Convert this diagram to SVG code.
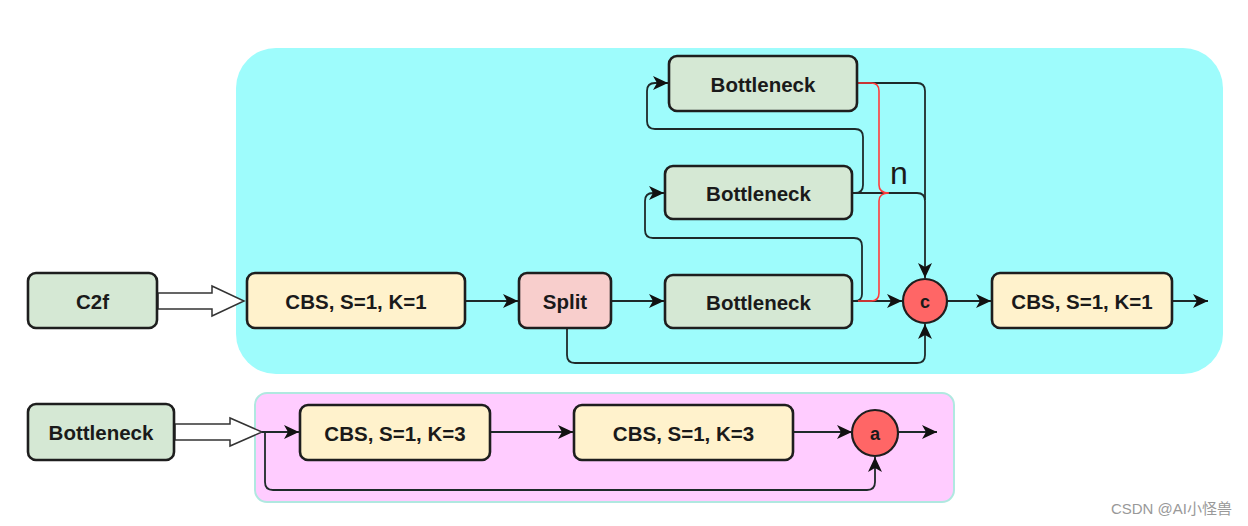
<svg xmlns="http://www.w3.org/2000/svg" width="1248" height="526" viewBox="0 0 1248 526">
<style>
.box{stroke:#1e1e1e;stroke-width:2.6}
.g{fill:#d5e8d4}
.y{fill:#fff2cc}
.r{fill:#f8cecc}
.t{font-family:"Liberation Sans",Arial,sans-serif;font-weight:bold;font-size:20.5px;fill:#1a1a1a;text-anchor:middle;dominant-baseline:central}
.ct{font-size:18px}
.circ{fill:#ff6666;stroke:#1e1e1e;stroke-width:2.2}
.ln{fill:none;stroke:#1e2a2a;stroke-width:1.8}
.hol{fill:#ffffff;stroke:#333;stroke-width:1.5}
</style>
<defs>
<marker id="ah" markerUnits="userSpaceOnUse" markerWidth="16" markerHeight="14" refX="15" refY="7" orient="auto">
<path d="M0,0 L15,7 L0,14 L4,7 z" fill="#111"/>
</marker>
</defs>
<rect x="236" y="48" width="987" height="326" rx="40" fill="#9efcfc"/>
<rect x="255" y="393" width="699" height="109" rx="12" fill="#ffccff" stroke="#b0e8e0" stroke-width="2"/>
<g id="connectors">
<polygon class="hol" points="158,293 212,293 212,286 244,301 212,316 212,309 158,309"/>
<polygon class="hol" points="175,424 230,424 230,418 262,432 230,446 230,440 175,440"/>
<path class="ln" d="M465,301 H518" marker-end="url(#ah)"/>
<path class="ln" d="M611,301 H664" marker-end="url(#ah)"/>
<path class="ln" d="M852,301 H902" marker-end="url(#ah)"/>
<path class="ln" d="M852,301 H855 Q862,301 862,294 V246 Q862,238 854,238 H653 Q645,238 645,230 V201 Q645,193 653,193 H664" marker-end="url(#ah)"/>
<path class="ln" d="M852,193 H917 Q925,193 925,201 V278" marker-end="url(#ah)"/>
<path class="ln" d="M852,193 H855 Q863,193 863,185 V137 Q863,129 855,129 H655 Q647,129 647,121 V91 Q647,83 655,83 H668" marker-end="url(#ah)"/>
<path class="ln" d="M857,83 H917 Q925,83 925,91 V200"/>
<path class="ln" d="M567,328 V355 Q567,363 575,363 H917 Q925,363 925,355 V324" marker-end="url(#ah)"/>
<path class="ln" d="M947,301 H991" marker-end="url(#ah)"/>
<path class="ln" d="M1172,301 H1208" marker-end="url(#ah)"/>
<path class="ln" d="M262,432 H299" marker-end="url(#ah)"/>
<path class="ln" d="M265,432 V482 Q265,490 273,490 H867 Q875,490 875,482 V457" marker-end="url(#ah)"/>
<path class="ln" d="M490,432 H573" marker-end="url(#ah)"/>
<path class="ln" d="M793,432 H852" marker-end="url(#ah)"/>
<path class="ln" d="M898,432 H937" marker-end="url(#ah)"/>
<path d="M857,83 H871 Q879,83 879,91 V185 Q879,193 889,193 Q879,193 879,201 V293 Q879,301 871,301 H858" fill="none" stroke="#ff3b3b" stroke-width="1.6"/>
</g>
<text x="899" y="184" font-family="Liberation Sans,Arial,sans-serif" font-size="32" fill="#1a1a1a" text-anchor="middle">n</text>
<g id="c2f"><rect class="box g" x="28" y="273" width="129" height="55" rx="8"/><text class="t" x="92.5" y="301">C2f</text></g>
<g id="cbs1"><rect class="box y" x="247" y="273" width="218" height="55" rx="8"/><text class="t" x="356" y="301">CBS, S=1, K=1</text></g>
<g id="split"><rect class="box r" x="519" y="273" width="92" height="55" rx="8"/><text class="t" x="565" y="301">Split</text></g>
<g id="bn1"><rect class="box g" x="665" y="275" width="187" height="53" rx="8"/><text class="t" x="758.5" y="302">Bottleneck</text></g>
<g id="bn2"><rect class="box g" x="665" y="166" width="187" height="53" rx="8"/><text class="t" x="758.5" y="193">Bottleneck</text></g>
<g id="bn3"><rect class="box g" x="669" y="56" width="188" height="55" rx="8"/><text class="t" x="763" y="84">Bottleneck</text></g>
<g id="concat"><circle class="circ" cx="925" cy="301" r="22"/><text class="t ct" x="925" y="302">c</text></g>
<g id="cbs2"><rect class="box y" x="992" y="273" width="180" height="55" rx="8"/><text class="t" x="1082" y="301">CBS, S=1, K=1</text></g>
<g id="bneck"><rect class="box g" x="28" y="404" width="146" height="56" rx="8"/><text class="t" x="101" y="432">Bottleneck</text></g>
<g id="cbs3"><rect class="box y" x="300" y="405" width="190" height="55" rx="8"/><text class="t" x="395" y="433">CBS, S=1, K=3</text></g>
<g id="cbs4"><rect class="box y" x="574" y="405" width="219" height="55" rx="8"/><text class="t" x="683.5" y="433">CBS, S=1, K=3</text></g>
<g id="add"><circle class="circ" cx="875" cy="433" r="23"/><text class="t ct" x="875" y="434">a</text></g>
<text x="1232" y="514" font-family="Liberation Sans,'Noto Sans CJK SC',sans-serif" font-size="15" fill="#999" text-anchor="end">CSDN @AI小怪兽</text>
</svg>
